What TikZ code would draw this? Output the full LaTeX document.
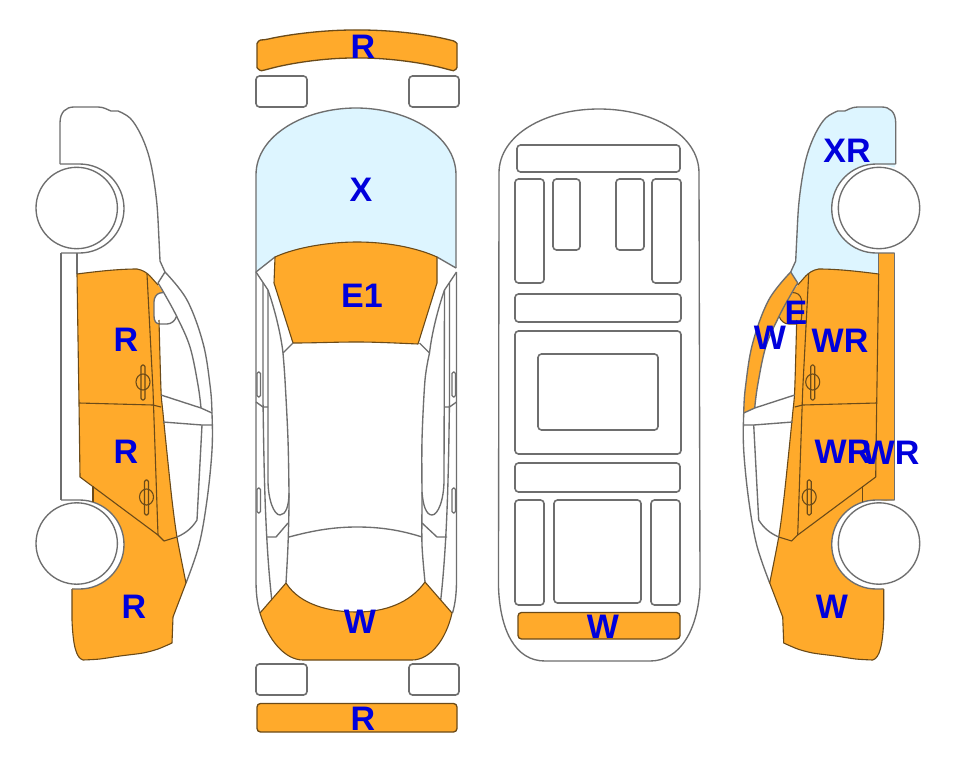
\documentclass[tikz,border=0pt]{standalone}
\usepackage{fontspec}
\setmainfont{Liberation Sans}
\definecolor{org}{HTML}{FFAA2B}
\definecolor{sky}{HTML}{DDF5FF}
\definecolor{ln}{HTML}{6E6E6E}
\definecolor{dk}{HTML}{6B4A18}
\definecolor{lab}{HTML}{0000DC}
\tikzset{
 ln/.style={draw=ln,line width=1.35pt,line join=round},
 dkl/.style={draw=dk,line width=1.1pt,line join=round},
 box/.style={draw=ln,line width=1.6pt,rounded corners=3.5pt},
 orgbox/.style={draw=dk,fill=org,line width=1.3pt,rounded corners=3.5pt},
 lbl/.style={text=lab,font=\fontsize{34}{34}\selectfont\bfseries,inner sep=0pt}
}
% side-view paths (drawn as the left car; the right car is its mirror)
\newcommand{\pRoof}{(60,164) -- (60,123) .. controls (60,112) and (66,107) .. (74,107) -- (98,107) .. controls (104,107) and (108,110) .. (111,111) -- plot[smooth,tension=.6] coordinates {(118,111) (130,118) (140,133) (148,153) (153,175) (157,205) (159,240) (160,261)} -- (165,272)}
\newcommand{\pOuter}{plot[smooth,tension=.6] coordinates {(165,272) (187,300) (203,343) (210,385) (212,413) (212,450) (207,500) (199,545) (186,583)}}
\newcommand{\pInner}{plot[smooth,tension=.6] coordinates {(158,283) (164,293) (177,317) (190,347) (198,385) (201,408)}}
\newcommand{\pFront}{(186,583) -- (173,617) -- (172,643) -- plot[smooth,tension=.5] coordinates {(172,643) (158,649) (143,653) (120,656) (100,659) (83,660)} .. controls (76,658) and (73,645) .. (72,620) -- (72,589)}
\newcommand{\pMirror}{(163.5,292.5) -- (160,293) .. controls (156,294) and (154,298) .. (154,302) -- (154,316) .. controls (154,321) and (156,324) .. (160,324) -- (167,324) .. controls (171,324) and (175,321) .. (176.5,316.5)}
\newcommand{\pArchA}{(60,164) -- (79.5,164) .. controls (104.1,164) and (124,183.9) .. (124,208.5) .. controls (124,233.1) and (104.1,253) .. (79.5,253) -- (61,253)}
\newcommand{\pArchB}{(61,500) -- (79.5,500) .. controls (104.1,500) and (124,519.9) .. (124,544.5) .. controls (124,569.1) and (104.1,589) .. (79.5,589) -- (72,589)}
\newcommand{\pBody}{(77,274) .. controls (100,271) and (120,269) .. (137,269) .. controls (143,270) and (147,273) .. (150,276) -- (158,285) -- (164,293) -- (159,320) -- (161,390) -- plot[smooth,tension=.5] coordinates {(161,390) (163,413) (167,453) (172,500) (177,537) (186,583)} -- \pFrontBack -- (72,589) -- (72,540) -- (93,530) -- (93,486) -- (80,477) -- (79,403) -- cycle}
\newcommand{\pFrontBack}{(173,617) -- (172,643) -- plot[smooth,tension=.5] coordinates {(172,643) (158,649) (143,653) (120,656) (100,659) (83,660)} .. controls (76,658) and (73,645) .. (72,620)}
\newcommand{\sideDiscs}{
 \fill[white] (79.5,208.5) circle[radius=44.5];
 \fill[white] (79.5,544.5) circle[radius=44.5];
}
\newcommand{\sideStrokes}{
 \draw[ln] \pRoof;
 \draw[ln] \pOuter;
 \draw[ln] \pInner;
 \draw[ln] (165,272) -- (158,283);
 \draw[dkl] \pFront;
 \draw[ln] \pArchA;
 \draw[ln] \pArchB;
 \draw[ln] (61,253) -- (61,500);
 \draw[ln] (77,253) -- (77,274);
 \draw[dkl] (77,274) -- (79,403) -- (80,477) -- (158,535) -- (164,541) -- (177,537);
 \draw[dkl] (93,486) -- (93,502);
 \draw[dkl] (77,274) .. controls (100,271) and (120,269) .. (137,269) .. controls (143,270) and (147,273) .. (150,276) -- (158,285);
 \draw[dkl] (147,274) -- (153,390) -- (158,535);
 \draw[dkl] (79,403) -- (153,405) -- (161,407);
 \draw[dkl] plot[smooth,tension=.5] coordinates {(159,320) (161,390) (163,413) (167,453) (172,500) (177,537) (186,583)};
 \draw[ln] (161,395) -- (201,408) -- (212,413);
 \draw[ln] (163,422) -- (202,425) -- (212,425);
 \draw[ln] (202,425) -- (197,520) .. controls (192,528) and (186,533) .. (177,537);
 \draw[dkl,rounded corners=1.5pt] (141,365) rectangle (145,400);
 \draw[dkl] (143,382) ellipse[x radius=7,y radius=8];
 \draw[dkl,rounded corners=1.5pt] (144.5,480) rectangle (148.5,515);
 \draw[dkl] (146.5,497) ellipse[x radius=7,y radius=8];
 \draw[ln,fill=white] (76.7,208) circle[radius=40.7];
 \draw[ln,fill=white] (76.7,543.5) circle[radius=40.7];
}
% top-view half lines
\newcommand{\topHalf}{
 \draw[ln] (256,272) -- (256,580) .. controls (256,592) and (257,603) .. (260,613);
 \draw[ln] (263,283) -- (263,400) .. controls (264,470) and (265,540) .. (272,602);
 \draw[ln] (256,272) -- (268,290) .. controls (275,310) and (281,335) .. (283,353);
 \draw[ln] (283,353) -- (293,343);
 \draw[ln] (256,402) -- (263,407) -- (268,407);
 \draw[ln,rounded corners=1.5pt] (257,372) rectangle (260.5,397);
 \draw[ln,rounded corners=1.5pt] (257,488) rectangle (260.5,513);
}
\begin{document}
\begin{tikzpicture}[x=1pt,y=-1pt]
\useasboundingbox (0,0) rectangle (963,768);
\fill[white] (0,0) rectangle (963,768);

% ---- left side view
\begin{scope}
 \fill[org] \pBody;
 \draw[ln,fill=white] \pMirror;
 \sideDiscs
 \sideStrokes
\end{scope}

% ---- right side view
\begin{scope}[shift={(955.7,0)},xscale=-1]
 \fill[sky] \pRoof -- (158,283) .. controls (155,280) and (150,276) .. (147,273) .. controls (143,270) and (140,269) .. (137,269) .. controls (120,269) and (100,271) .. (77,274) -- (77,208) -- cycle;
 \fill[org] \pBody;
 \fill[org] (61,253) -- (77,253) -- (79,403) -- (80,477) -- (93,486) -- (93,503) -- (61,500) -- cycle;
 \fill[org] (165,272) -- plot[smooth,tension=.6] coordinates {(165,272) (187,300) (203,343) (210,385) (212,413)} -- (201,408) -- plot[smooth,tension=.6] coordinates {(198,385) (190,347) (177,317) (164,293) (158,283)} -- cycle;
 \fill[org] \pMirror -- cycle;
 \draw[dkl] \pMirror;
 \sideDiscs
 \sideStrokes
\end{scope}

% ---- top view
\draw[orgbox] (257,47) .. controls (257,42) and (260,40) .. (264,40) .. controls (290,34) and (325,30) .. (357,30) .. controls (390,30) and (425,34) .. (450,40) .. controls (454,41) and (457,43) .. (457,47) -- (457,64) .. controls (457,68) and (455,71) .. (450,70) .. controls (425,63) and (390,58) .. (357,58) .. controls (325,58) and (290,63) .. (265,70) .. controls (260,71) and (257,68) .. (257,64) -- cycle;
\draw[box] (256,76) rectangle (307,107);
\draw[box] (409,76) rectangle (459,107);
\draw[box] (256,664) rectangle (307,695);
\draw[box] (409,664) rectangle (459,695);
\draw[orgbox] (257,703.5) rectangle (457,732);

\fill[sky] (256,272) -- (256,175) .. controls (256,135) and (305,108) .. (356,108) .. controls (407,108) and (456,135) .. (456,175) -- (456,268) -- (437,257) .. controls (415,247) and (385,242) .. (357,242) .. controls (330,242) and (297,247) .. (275,257) -- cycle;
\draw[ln] (256,272) -- (256,175) .. controls (256,135) and (305,108) .. (356,108) .. controls (407,108) and (456,135) .. (456,175) -- (456,268);
\draw[ln] (256,272) -- (275,257);
\draw[ln] (456,268) -- (437,257);
\draw[dkl,fill=org] (275,257) .. controls (297,247) and (330,242) .. (357,242) .. controls (385,242) and (415,247) .. (437,257) -- (437,283) -- (418,344) .. controls (395,343) and (375,342) .. (357,342) .. controls (335,342) and (315,343) .. (293,343) -- (274,283) -- cycle;

\topHalf
\begin{scope}[shift={(712.5,0)},xscale=-1]
 \topHalf
\end{scope}
% inner roof rails, wheel humps and rear corners (the two sides differ slightly)
\draw[ln] plot[smooth,tension=.5] coordinates {(283,353) (285,380) (288,440) (289,500) (288,545) (286,583)};
\draw[ln] plot[smooth,tension=.5] coordinates {(429.5,353) (425,380) (422,440) (422,500) (422,545) (425,582)};
\draw[ln] (268,290) -- (268,480) .. controls (268,500) and (274,515) .. (280,515) .. controls (286,515) and (289,505) .. (289,493);
\draw[ln] (444.5,290) -- (444,480) .. controls (444,500) and (438,515) .. (432,515) .. controls (426,515) and (423,505) .. (422,492);
\draw[ln] (266,537) -- (276,537) -- (288,523);
\draw[ln] (447,537) -- (437,537) -- (422,523);
\draw[ln] (289,537) .. controls (315,530) and (335,527) .. (357,527) .. controls (380,527) and (400,530) .. (422,537);
\draw[dkl,fill=org] (260,613) .. controls (268,640) and (285,660) .. (303,660) -- (412,660) .. controls (430,660) and (446,640) .. (452,613) -- (425,582) .. controls (410,603) and (385,612) .. (357,612) .. controls (330,612) and (300,605) .. (286,583) -- cycle;

% ---- underside view
\draw[ln] (498.5,587) -- (499,173) .. controls (499,135) and (545,109) .. (599,109) .. controls (653,109) and (699,135) .. (699,173) -- (700,587) .. controls (698,630) and (680,661) .. (650,661) -- (545,661) .. controls (515,661) and (500,630) .. (498.5,587);
\draw[box] (517,145) rectangle (680,172);
\draw[box] (515,179) rectangle (544,283);
\draw[box] (553,179) rectangle (580,250);
\draw[box] (616,179) rectangle (644,250);
\draw[box] (652,179) rectangle (681,283);
\draw[box] (515,294) rectangle (681,322);
\draw[box] (515,331) rectangle (681,454);
\draw[box] (538,354) rectangle (658,430);
\draw[box] (515,463) rectangle (680,492);
\draw[box] (515,500) rectangle (544,605);
\draw[box] (554,500) rectangle (641,603);
\draw[box] (651,500) rectangle (680,605);
\draw[orgbox] (518,612.5) rectangle (680,639);

% ---- labels
\node[lbl] (l1) at (126,340) {R};
\node[lbl] (l2) at (126,452) {R};
\node[lbl] (l3) at (134,607) {R};
\node[lbl] (t1) at (363,47) {R};
\node[lbl] (t2) at (361,190) {X};
\node[lbl] (t3) at (362,296) {E1};
\node[lbl] (t4) at (360,622) {W};
\node[lbl] (t5) at (363,719) {R};
\node[lbl] (u1) at (603,627) {W};
\node[lbl] (r1) at (847,151) {XR};
\node[lbl] (r2) at (796,313) {E};
\node[lbl] (r3) at (770,338) {W};
\node[lbl] (r4) at (840,341) {WR};
\node[lbl] (r5) at (843,452) {WR};
\node[lbl] (r6) at (891,453) {WR};
\node[lbl] (r7) at (832,607) {W};
\end{tikzpicture}
\end{document}
